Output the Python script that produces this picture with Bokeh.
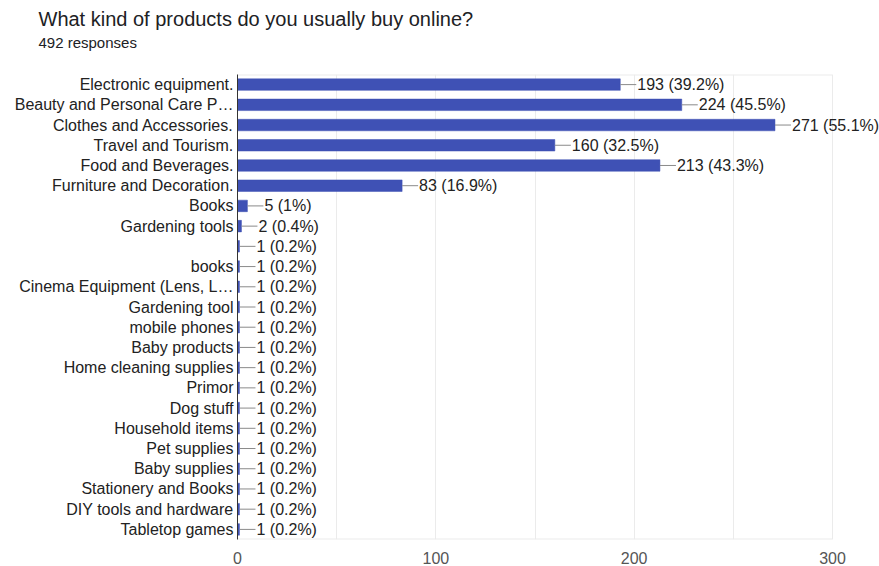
from bokeh.plotting import figure
from bokeh.models import FixedTicker, Title, ColumnDataSource, Range1d
from bokeh.core.properties import value
from bokeh.embed import file_html
from bokeh.resources import INLINE

title_text = "What kind of products do you usually buy online?"
subtitle_text = "492 responses"

categories = [
    "Electronic equipment.",
    "Beauty and Personal Care P\u2026",
    "Clothes and Accessories.",
    "Travel and Tourism.",
    "Food and Beverages.",
    "Furniture and Decoration.",
    "Books",
    "Gardening tools",
    "",
    "books",
    "Cinema Equipment (Lens, L\u2026",
    "Gardening tool",
    "mobile phones",
    "Baby products",
    "Home cleaning supplies",
    "Primor",
    "Dog stuff",
    "Household items",
    "Pet supplies",
    "Baby supplies",
    "Stationery and Books",
    "DIY tools and hardware",
    "Tabletop games",
]
counts = [193, 224, 271, 160, 213, 83, 5, 2, 1, 1, 1, 1, 1, 1, 1, 1, 1, 1, 1, 1, 1, 1, 1]
percents = ["39.2%", "45.5%", "55.1%", "32.5%", "43.3%", "16.9%", "1%", "0.4%",
            "0.2%", "0.2%", "0.2%", "0.2%", "0.2%", "0.2%", "0.2%", "0.2%", "0.2%",
            "0.2%", "0.2%", "0.2%", "0.2%", "0.2%", "0.2%"]
x_ticks = [0, 100, 200, 300]
grid_ticks = [0, 50, 100, 150, 200, 250, 300]
x_max = 300

n = len(categories)
rows = list(range(n))
labels = [f"{c} ({p})" for c, p in zip(counts, percents)]
src = ColumnDataSource(dict(row=rows, n=counts, lab=labels))

FONT = "Liberation Sans"
BAR = "#3f51b5"
GRID = "#ebebeb"

# frame: x 0 -> 237px, 300 -> 832px; frame continues to the window edge so labels are not clipped
x_end = x_max * (879 - 237) / (832 - 237)

p = figure(width=879, height=566, output_backend="svg", toolbar_location=None,
           y_range=Range1d(n - 0.5, -0.5), x_range=Range1d(0, x_end),
           min_border_left=237, min_border_right=0, min_border_top=74, min_border_bottom=27)
p.background_fill_color = "white"
p.border_fill_color = "white"
p.outline_line_color = None

# top / bottom borders of the chart area (0..300)
p.segment(x0=[0, 0], x1=[x_max, x_max], y0=[-0.5, n - 0.5], y1=[-0.5, n - 0.5],
          line_color=GRID, line_width=2)

p.hbar(y="row", right="n", left=0, height=0.57, source=src,
       fill_color=BAR, line_color=BAR, line_width=0.5)
p.ray(x="n", y="row", length=16, length_units="screen", angle=0, source=src,
      line_color="#8a8a8a", line_width=1)
p.text(x="n", y="row", text="lab", source=src, x_offset=17,
       text_baseline="middle", text_align="left",
       text_font=value(FONT), text_font_size="16px", text_color="#222222")

# axes
p.yaxis.ticker = FixedTicker(ticks=rows)
p.yaxis.major_label_overrides = {i: c for i, c in zip(rows, categories)}
p.yaxis.axis_line_color = "#333333"
p.yaxis.major_tick_line_color = None
p.yaxis.major_tick_out = 0
p.yaxis.major_tick_in = 0
p.yaxis.minor_tick_line_color = None
p.yaxis.major_label_standoff = 4
p.yaxis.major_label_text_font = FONT
p.yaxis.major_label_text_font_size = "16px"
p.yaxis.major_label_text_color = "#222222"

p.xaxis.ticker = FixedTicker(ticks=x_ticks)
p.xaxis.axis_line_color = None
p.xaxis.major_tick_line_color = None
p.xaxis.major_tick_out = 0
p.xaxis.major_tick_in = 0
p.xaxis.minor_tick_line_color = None
p.xaxis.major_label_standoff = 12
p.xaxis.major_label_text_font = FONT
p.xaxis.major_label_text_font_size = "16px"
p.xaxis.major_label_text_color = "#555555"

p.xgrid.ticker = FixedTicker(ticks=grid_ticks)
p.xgrid.grid_line_color = GRID
p.ygrid.grid_line_color = None

# titles (first added sits closest to the frame)
p.add_layout(Title(text=" ", text_font=FONT, text_font_size="1px",
                   standoff=20), "above")
p.add_layout(Title(text=subtitle_text, text_font=FONT, text_font_size="15px",
                   text_font_style="normal", text_color="#202124",
                   align="left", offset=-199, standoff=1), "above")
p.add_layout(Title(text=title_text, text_font=FONT, text_font_size="20px",
                   text_font_style="normal", text_color="#202124",
                   align="left", offset=-199, standoff=4), "above")

open("out.html", "w").write(file_html(p, INLINE))
